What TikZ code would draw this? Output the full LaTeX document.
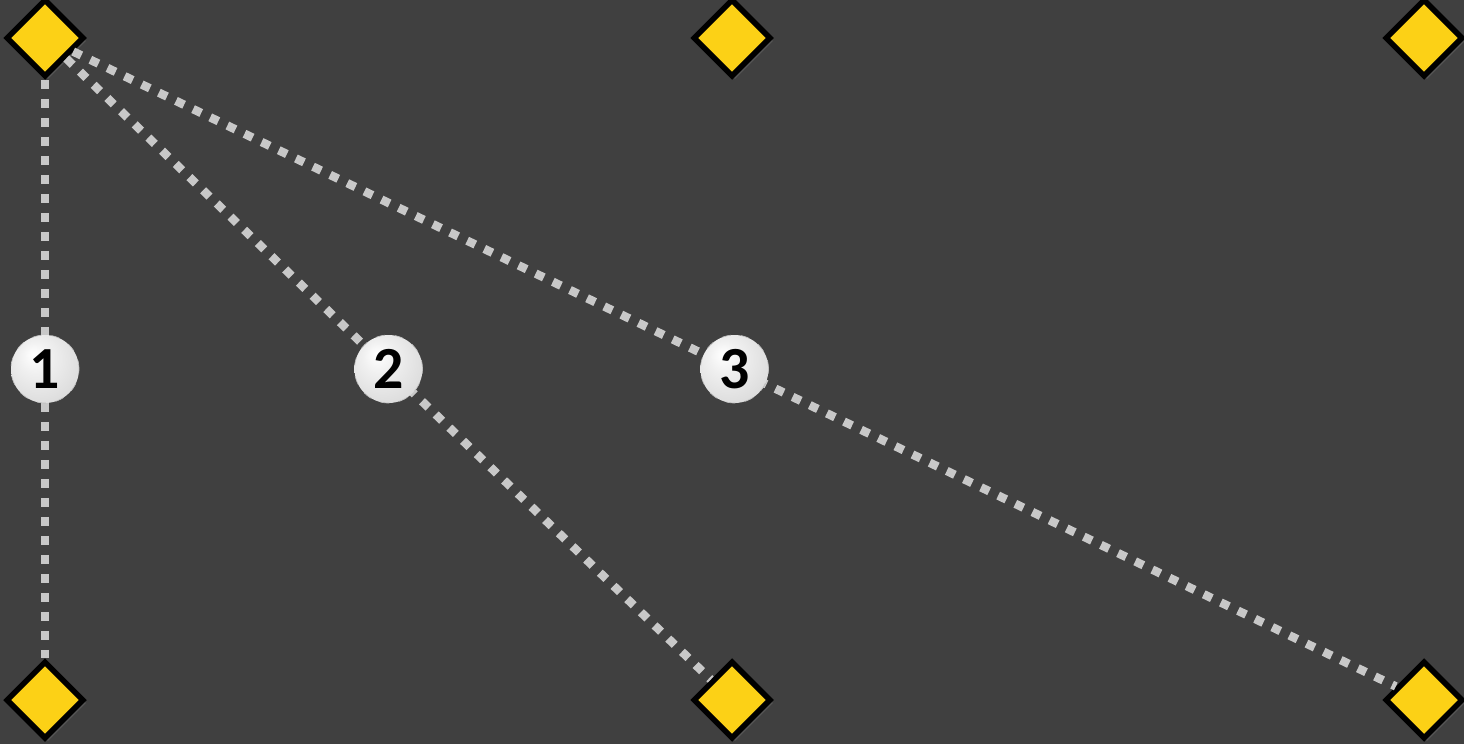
\documentclass[tikz,border=0pt]{standalone}
\usepackage{fontspec}
\setmainfont{Carlito}
\usepackage{tikz}
\usetikzlibrary{positioning, shapes, shapes.geometric, shadows}
\definecolor{bgdark}{HTML}{404040}
\definecolor{pinyellow}{HTML}{FCD116}
\definecolor{dotgray}{HTML}{C8C8C8}
\pgfdeclareradialshading{silverball}{\pgfpoint{-9bp}{11bp}}{%
  color(0bp)=(white); color(12bp)=(white!88!gray); color(30bp)=(white!74!gray);
  color(44bp)=(white!58!gray); color(60bp)=(white!50!gray)}
\tikzset{
  pin/.style={diamond, draw=black, line width=0.055cm, fill=pinyellow,
    inner sep=0pt, minimum size=0.78cm,
    drop shadow={shadow xshift=0.03cm, shadow yshift=-0.03cm, opacity=0.35}},
  ball/.style={circle, shading=silverball, draw=white!50!gray, line width=0.2pt,
    inner sep=0pt, minimum size=0.68cm, font=\bfseries\fontsize{17}{17}\selectfont},
  dotline/.style={draw=dotgray, line width=0.085cm, dash pattern=on 0.09cm off 0.1cm}
}

\begin{document}
\begin{tikzpicture}
\fill[bgdark] (0,0) rectangle (14.64,7.44);
\useasboundingbox (0,0) rectangle (14.64,7.44);
\node[pin] (a) at (0.45,7.06) {};
\node[pin] (b) at (7.32,7.06) {};
\node[pin] (c) at (14.24,7.06) {};
\node[pin] (d) at (0.45,0.44) {};
\node[pin] (e) at (7.32,0.44) {};
\node[pin] (f) at (14.24,0.44) {};
\draw[dotline] (a) -- node[ball] {1} (d);
\draw[dotline] (a) -- node[ball] {2} (e);
\draw[dotline] (a) -- node[ball] {3} (f);
\end{tikzpicture}
\end{document}
